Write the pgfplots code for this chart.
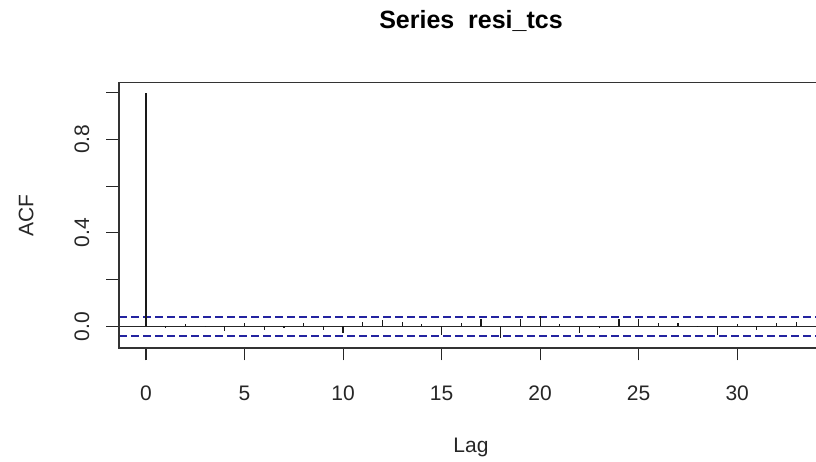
\documentclass[border=0pt]{standalone}
\usepackage{pgfplots}
\pgfplotsset{compat=1.18}
\usepackage{fontspec}
\setmainfont{Liberation Sans}
\definecolor{ciblue}{RGB}{35,35,160}
\begin{document}
\begin{tikzpicture}[x=1pt,y=1pt]
\useasboundingbox (0,0) rectangle (816,462);
\begin{axis}[
  at={(119pt,114pt)}, anchor=south west,
  scale only axis, width=697pt, height=265.3pt,
  xmin=-1.37, xmax=34.0, ymin=-0.092, ymax=1.042,
  clip=false,
  axis line style={draw=none},
  xtick pos=lower, ytick pos=lower, tick align=outside,
  major tick length=12.5pt,
  every tick/.style={line width=1.1pt, black!85},
  xtick={0,5,...,30},
  ytick={0,0.2,0.4,0.6,0.8,1.0},
  yticklabels={0.0,,0.4,,0.8,},
  /pgf/number format/assume math mode=true,
  ticklabel style={font=\fontsize{21}{21}\selectfont, text=black!85},
  xticklabel style={anchor=north, inner sep=0pt, yshift=-25pt},
  yticklabel style={rotate=90, anchor=south, inner sep=0pt, yshift=17pt},
  title={\bfseries Series\ \ resi\_tcs},
  title style={font=\fontsize{25}{25}\selectfont, at={(axis description cs:0.505,1)}, anchor=base, yshift=48.4pt},
  xlabel={Lag},
  xlabel style={font=\fontsize{21}{21}\selectfont, text=black!85, at={(axis description cs:0.505,0)}, anchor=base, yshift=-105pt},
  ylabel={ACF},
  ylabel style={font=\fontsize{21}{21}\selectfont, text=black!85, at={(axis description cs:0,0.5)}, anchor=base, yshift=85.5pt},
]
% confidence bounds
\addplot[draw=ciblue, line width=1.4pt, dash pattern=on 8pt off 4pt, mark=none] coordinates {(-1.37,0.04) (34.0,0.04)};
\addplot[draw=ciblue, line width=1.4pt, dash pattern=on 8pt off 4pt, mark=none] coordinates {(-1.37,-0.04) (34.0,-0.04)};
% zero line
\addplot[black!85, line width=1.1pt, mark=none] coordinates {(-1.37,0) (34.0,0)};
% ACF spikes
\addplot[ycomb, black!90, line width=1.2pt, mark=none] coordinates {
(0,1.0) (1,-0.007) (2,0.010) (3,0.002) (4,-0.021) (5,0.016) (6,-0.014) (7,-0.007)
(8,0.016) (9,-0.014) (10,-0.028) (11,0.021) (12,0.028) (13,0.021) (14,0.010)
(15,-0.036) (16,0.016) (17,0.033) (18,-0.050) (19,0.033) (20,0.044) (21,0.010)
(22,-0.028) (23,-0.007) (24,0.033) (25,0.033) (26,0.016) (27,0.016) (28,0.002)
(29,-0.036) (30,0.010) (31,-0.014) (32,0.016) (33,0.021)
};
% frame (left, bottom, top; right side lies beyond the image)
\draw[black!80, line width=1.3pt] (rel axis cs:1,1) -- (rel axis cs:0,1) -- (rel axis cs:0,0) -- (rel axis cs:1,0);
\end{axis}
\end{tikzpicture}
\end{document}
